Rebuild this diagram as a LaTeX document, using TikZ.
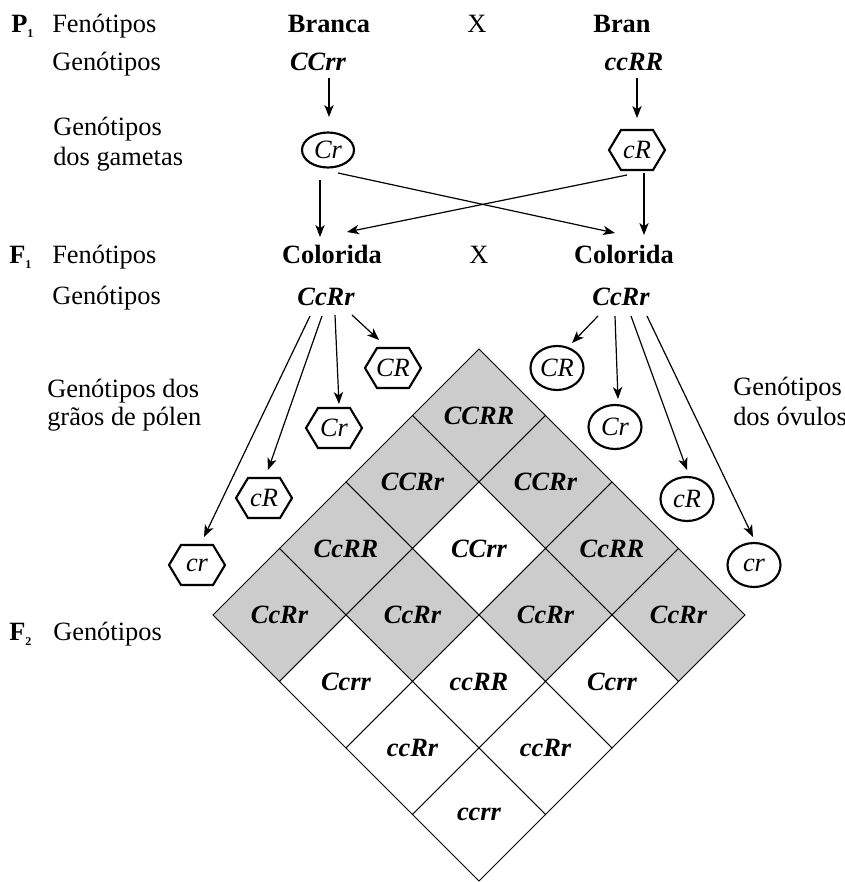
\documentclass[tikz,border=0pt]{standalone}
\usepackage{fontspec}
\setmainfont{Liberation Serif}
\usetikzlibrary{shapes.geometric,arrows.meta,calc}
\definecolor{cellgray}{HTML}{CCCCCC}
\newcommand\hexat[1]{\draw[hexline] ($(#1)+(-28,0)$) -- ++(12,-20) -- ++(32,0) -- ++(12,20) -- ++(-12,20) -- ++(-32,0) -- cycle;}
\newcommand\subone[1]{\raisebox{-3.8pt}{\fontsize{9}{9}\selectfont\bfseries #1}}
\begin{document}
\begin{tikzpicture}[x=0.75pt,y=-0.75pt,
  every node/.style={font=\fontsize{19.8}{23}\selectfont, inner sep=0pt},
  lbl/.style={anchor=base west},
  phen/.style={anchor=base, font=\fontsize{19.8}{23}\selectfont\bfseries},
  cross/.style={anchor=base},
  geno/.style={anchor=base, font=\fontsize{19.8}{23}\selectfont\bfseries\itshape},
  cellt/.style={font=\fontsize{19.8}{23}\selectfont\bfseries\itshape},
  gam/.style={ellipse, draw, line width=1.6pt, minimum width=39.75pt, minimum height=33pt, font=\fontsize{19.8}{23}\selectfont\itshape},
  gamtop/.style={gam, minimum width=39pt, minimum height=26.25pt},
  hexn/.style={minimum width=42pt, minimum height=30pt, font=\fontsize{19.8}{23}\selectfont\itshape},
  hexline/.style={line width=1.6pt, line join=miter},
  arr/.style={line width=0.9pt, -{Stealth[length=9pt,width=7pt,inset=2.5pt]}},
  cellline/.style={line width=0.75pt, draw=black},
]
\useasboundingbox (0,0) rectangle (845,882);

% Punnett diamond
\foreach \i/\j/\t/\f in {0/0/CCRR/cellgray, 0/1/CCRr/cellgray, 0/2/CcRR/cellgray, 0/3/CcRr/cellgray,
  1/0/CCRr/cellgray, 1/1/CCrr/white, 1/2/CcRr/cellgray, 1/3/Ccrr/white,
  2/0/CcRR/cellgray, 2/1/CcRr/cellgray, 2/2/ccRR/white, 2/3/ccRr/white,
  3/0/CcRr/cellgray, 3/1/Ccrr/white, 3/2/ccRr/white, 3/3/ccrr/white}{
  \filldraw[cellline, fill=\f] ($(479,349)+\i*(-66.5,66.5)+\j*(66.5,66.5)$) -- ++(66.5,66.5) -- ++(-66.5,66.5) -- ++(-66.5,-66.5) -- cycle;
  \node[cellt] (c\i\j) at ($(479,415.5)+\i*(-66.5,66.5)+\j*(66.5,66.5)$) {\t};
}

% left labels
\node[lbl, font=\fontsize{19.8}{23}\selectfont\bfseries] (p1) at (11,32) {P\subone{1}};
\node[lbl] (fen1) at (52,32) {Fenótipos};
\node[lbl] (gen1) at (52,70) {Genótipos};
\node[lbl] (gam1) at (53,135) {Genótipos};
\node[lbl] (gam2) at (53,165) {dos gametas};
\node[lbl, font=\fontsize{19.8}{23}\selectfont\bfseries] (f1) at (9,263) {F\subone{1}};
\node[lbl] (fen2) at (52,263) {Fenótipos};
\node[lbl] (gen2) at (52,304) {Genótipos};
\node[lbl] (pol1) at (47,397) {Genótipos dos};
\node[lbl] (pol2) at (47,425) {grãos de pólen};
\node[lbl] (ovu1) at (733,395) {Genótipos};
\node[lbl] (ovu2) at (733,425) {dos óvulos};
\node[lbl, font=\fontsize{19.8}{23}\selectfont\bfseries] (f2) at (9,640) {F\subone{2}};
\node[lbl] (gen3) at (53,640) {Genótipos};

% P1
\node[phen] (branca) at (329,32) {Branca};
\node[cross] (x1) at (477,32) {X};
\node[phen] (bran) at (622,32) {Bran};
\node[geno] (CCrr) at (318,70) {CCrr};
\node[geno] (ccRR) at (634,70) {ccRR};
\node[gamtop] (Cr) at (328,150) {Cr};
\node[hexn] (cRt) at (637,150) {cR};
\hexat{cRt}

% F1
\node[phen] (colL) at (332,263) {Colorida};
\node[cross] (x2) at (479,263) {X};
\node[phen] (colR) at (624,263) {Colorida};
\node[geno] (CcRrL) at (326,305) {CcRr};
\node[geno] (CcRrR) at (621,305) {CcRr};

% pollen
\node[hexn] (pCR) at (393,368) {CR};
\node[hexn] (pCr) at (334,428) {Cr};
\node[hexn] (pcR) at (264,498) {cR};
\node[hexn] (pcr) at (197,565) {cr};
\hexat{pCR}\hexat{pCr}\hexat{pcR}\hexat{pcr}

% ovules
\node[gam] (oCR) at (557,368) {CR};
\node[gam] (oCr) at (615,427) {Cr};
\node[gam] (ocR) at (687,499) {cR};
\node[gam] (ocr) at (754,565) {cr};

% arrows
\draw[arr] ($(CCrr.base)+(11,8)$) -- ($(Cr.center)+(1,-33)$);
\draw[arr] ($(ccRR.base)+(3,8)$) -- ($(cRt.center)+(0,-32)$);
\draw[arr] ($(Cr.center)+(-8,30)$) -- ($(colL.base)+(-12,-26)$);
\draw[arr] ($(Cr.center)+(10,23)$) -- ($(colR.base)+(-9,-30)$);
\draw[arr] ($(cRt.center)+(7,23)$) -- ($(colR.base)+(20,-28)$);
\draw[arr] ($(cRt.center)+(-10,25)$) -- ($(colL.base)+(15,-31)$);

\draw[arr] ($(CcRrL.base)+(26,10)$) -- ($(pCR.center)+(-14,-28)$);
\draw[arr] ($(CcRrL.base)+(9,10)$) -- ($(pCr.center)+(5,-24)$);
\draw[arr] ($(CcRrL.base)+(-4,11)$) -- ($(pcR.center)+(4,-28)$);
\draw[arr] ($(CcRrL.base)+(-16,11)$) -- ($(pcr.center)+(7,-28)$);

\draw[arr] ($(CcRrR.base)+(-23,11)$) -- ($(oCR.center)+(15,-25)$);
\draw[arr] ($(CcRrR.base)+(-6,11)$) -- ($(oCr.center)+(3,-28)$);
\draw[arr] ($(CcRrR.base)+(10,11)$) -- ($(ocR.center)+(0,-29)$);
\draw[arr] ($(CcRrR.base)+(26,11)$) -- ($(ocr.center)+(-1,-28)$);
\end{tikzpicture}
\end{document}
